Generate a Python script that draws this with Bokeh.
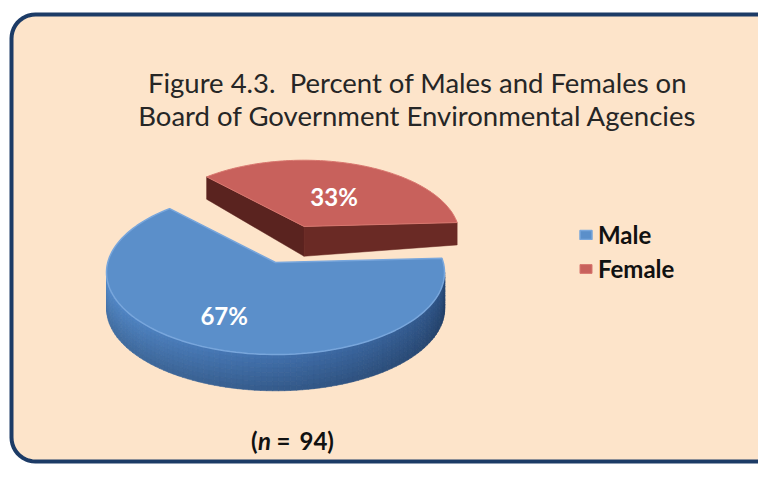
import numpy as np
from bokeh.plotting import figure
from bokeh.models import Range1d, Legend, LegendItem
from bokeh.core.properties import value
from bokeh.embed import file_html
from bokeh.resources import INLINE

# ---- data ----
categories = ["Male", "Female"]
percents = [67, 33]
pct_labels = ["67%", "33%"]
n_total = 94
title_lines = ["Figure 4.3.\u00a0 Percent of Males and Females on",
               "Board of Government Environmental Agencies"]

# ---- style / layout ----
top_colors = ["#5b8fca", "#c8615c"]
line_colors = ["#78a6dc", "#d8776f"]
W, H = 758, 465
FONT = "Lato"

p = figure(width=W, height=H, output_backend="svg", toolbar_location=None,
           x_range=Range1d(0, W), y_range=Range1d(H, 0),
           x_axis_type=None, y_axis_type=None, min_border=0)
p.grid.visible = False
p.outline_line_color = None
p.background_fill_color = "white"
p.border_fill_color = "white"

# rounded frame
def rounded_rect(x0, y0, x1, y1, r, n=12):
    xs, ys = [], []
    corners = [(x1 - r, y0 + r, -90, 0), (x1 - r, y1 - r, 0, 90),
               (x0 + r, y1 - r, 90, 180), (x0 + r, y0 + r, 180, 270)]
    for cxr, cyr, a0, a1 in corners:
        t = np.radians(np.linspace(a0, a1, n))
        xs += list(cxr + r * np.cos(t))
        ys += list(cyr + r * np.sin(t))
    return xs, ys

fx, fy = rounded_rect(11, 14, 800, 461, 24)
p.patch(fx, fy, fill_color="#fde4ca", line_color="#1c3b66", line_width=4)

# ---- 3D pie geometry ----
cx, cy, rx, ry, depth = 275, 272, 169, 82, 36
vtx_up = 10          # pie apex sits a little above the ellipse centre (perspective)
start_deg = 10.0
explode = 0.48
back_scale = 0.92    # exploded slice sits further back -> smaller
order = [1, 0]       # counter-clockwise from start: Female, then Male

slices = {}
a = start_deg
for i in order:
    span = percents[i] / sum(percents) * 360.0
    a0, a1 = a, a + span
    mid = np.radians((a0 + a1) / 2)
    ex = explode if categories[i] == "Female" else 0.0
    s = back_scale if categories[i] == "Female" else 1.0
    ox, oy = rx * ex * np.cos(mid), -ry * ex * np.sin(mid)
    slices[i] = (a0, a1, ox, oy, s)
    a = a1

def arc_pt(ang, ox, oy, s):
    r = np.radians(ang)
    return cx + ox + s * rx * np.cos(r), cy + oy - s * ry * np.sin(r)

def apex(ox, oy, s):
    return cx + ox, cy + oy - vtx_up * s

def top_face(a0, a1, ox, oy, s, n=120):
    vx, vy = apex(ox, oy, s)
    t = np.linspace(a0, a1, n)
    pts = [arc_pt(v, ox, oy, s) for v in t]
    return [vx] + [q[0] for q in pts], [vy] + [q[1] for q in pts]

def radial_face(ang, ox, oy, s):
    ex_, ey_ = arc_pt(ang, ox, oy, s)
    vx, vy = apex(ox, oy, s)
    d = depth * s * 0.9
    return [vx, ex_, ex_, vx], [vy, ey_, ey_ + d * 0.75, vy + d]

renderers = {}
# Female (behind): radial faces then top
fi = categories.index("Female")
a0, a1, ox, oy, s = slices[fi]
xs, ys = radial_face(a1, ox, oy, s)
p.patch(xs, ys, fill_color="#5a231f", line_color="#5a231f", line_width=0.5)
xs, ys = radial_face(a0, ox, oy, s)
p.patch(xs, ys, fill_color="#6a2a25", line_color="#6a2a25", line_width=0.5)
xs, ys = top_face(a0, a1, ox, oy, s)
renderers["Female"] = p.patch(xs, ys, fill_color=top_colors[fi],
                              line_color=line_colors[fi], line_width=1)

# Male: front side strips with smooth shading, then top
mi = categories.index("Male")
a0, a1, ox, oy, s = slices[mi]
lo, hi = max(a0, 180.0), min(a1, 360.0)
edges = np.linspace(lo, hi, 90)
c_left = np.array([80, 130, 188])
c_mid = np.array([60, 103, 158])
c_right = np.array([40, 72, 116])
nb = 8
bands = [(j / nb, (j + 1) / nb, 1.10 - 0.22 * (j + 0.5) / nb) for j in range(nb)]
sx, sy, scol = [], [], []
for t0, t1 in zip(edges[:-1], edges[1:]):
    u = ((t0 + t1) / 2 - lo) / (hi - lo)
    if u < 0.5:
        c = c_left + (c_mid - c_left) * (u / 0.5)
    else:
        c = c_mid + (c_right - c_mid) * ((u - 0.5) / 0.5)
    x0_, y0_ = arc_pt(t0, ox, oy, s)
    x1_, y1_ = arc_pt(t1, ox, oy, s)
    for b0, b1, k in bands:
        cc = np.clip(c * k, 0, 255)
        col = "#%02x%02x%02x" % tuple(int(v) for v in cc)
        sx.append([x0_, x1_ + 0.3, x1_ + 0.3, x0_])
        sy.append([y0_ + b0 * depth, y1_ + b0 * depth, y1_ + b1 * depth + 0.3,
                   y0_ + b1 * depth + 0.3])
        scol.append(col)
p.patches(sx, sy, fill_color=scol, line_color=scol, line_width=0.6)
xs, ys = top_face(a0, a1, ox, oy, s)
renderers["Male"] = p.patch(xs, ys, fill_color=top_colors[mi],
                            line_color=line_colors[mi], line_width=1.5)

# percent labels (placed along each slice's bisector)
label_f = {"Male": 0.56, "Female": 0.55}
label_dx = {"Male": -18, "Female": 0}
lx, ly = [], []
for i in range(len(categories)):
    a0, a1, ox, oy, s = slices[i]
    r = np.radians((a0 + a1) / 2)
    f = label_f[categories[i]]
    lx.append(cx + ox + f * s * rx * np.cos(r) + label_dx[categories[i]])
    ly.append(cy + oy - f * s * ry * np.sin(r))
p.text(x=lx, y=ly, text=pct_labels, text_align="center", text_baseline="middle",
       text_font=value(FONT), text_font_style="bold", text_font_size="24px",
       text_color="white")

# title
p.text(x=[417, 417], y=[82, 115], text=title_lines, text_align="center",
       text_baseline="middle", text_font=value(FONT), text_font_size="27.5px",
       text_color="#262626")

# (n = 94)
ny = 440
common = dict(y=[ny], text_baseline="middle", text_font=value(FONT),
              text_font_size="24px", text_color="#111111")
p.text(x=[257], text=["("], text_align="right", text_font_style="bold", **common)
p.text(x=[264], text=["n"], text_align="center", text_font_style="bold italic", **common)
p.text(x=[283], text=["="], text_align="center", text_font_style="bold", **common)
p.text(x=[299], text=["%d)" % n_total], text_align="left", text_font_style="bold", **common)

legend = Legend(items=[LegendItem(label=c, renderers=[renderers[c]]) for c in categories],
                location=(578, 182), padding=0, margin=0, spacing=5,
                label_standoff=5, glyph_width=15, glyph_height=11,
                background_fill_alpha=0, border_line_color=None,
                label_text_font=FONT, label_text_font_style="bold",
                label_text_font_size="24px", label_text_color="#111111")
p.add_layout(legend)

open("out.html", "w").write(file_html(p, INLINE))
